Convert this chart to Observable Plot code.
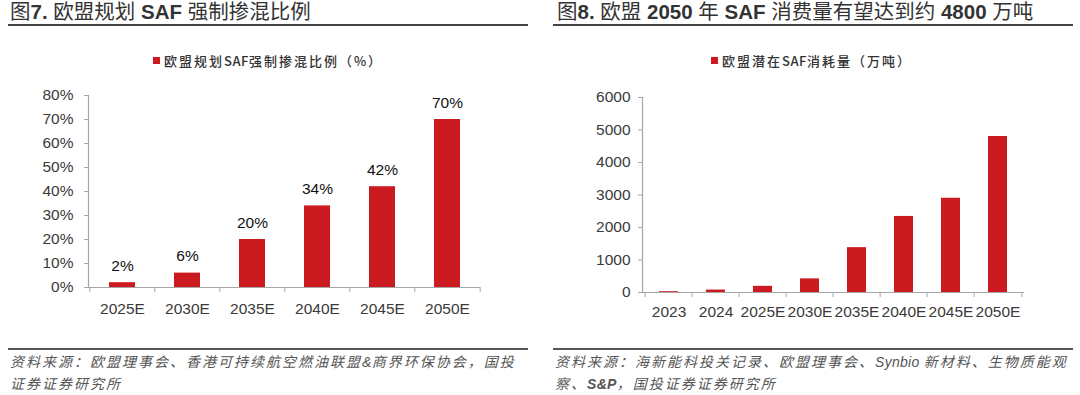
<!DOCTYPE html>
<html>
<head>
<meta charset="utf-8">
<script src="https://cdn.jsdelivr.net/npm/d3@7"></script>
<script src="https://cdn.jsdelivr.net/npm/@observablehq/plot@0.6"></script>
<style>
  html, body { margin: 0; padding: 0; background: #fff; }
  body { width: 1080px; height: 395px; position: relative; overflow: hidden; font-family: "Liberation Sans", Arial, "Noto Sans CJK SC", sans-serif; }
  .abs { position: absolute; }
  .title { font-family: "Liberation Sans", Arial, "Noto Sans CJK SC", sans-serif; font-size: 20.5px; color: #333; white-space: nowrap; line-height: 24px; }
  .title b { font-weight: bold; }
  .rule { background: #444; height: 2px; }
  .crule { background: #555; height: 2px; }
  .legend { font-family: "Noto Sans CJK SC", sans-serif; font-weight: 500; font-size: 13px; color: #333; letter-spacing: 2px; white-space: nowrap; display: flex; align-items: center; }
  .legend .sw { width: 7px; height: 7px; background: #cc1a21; margin-right: 4px; }
  .legend .lat { letter-spacing: 0.5px; }
  .cap { font-family: "Noto Sans CJK SC", sans-serif; font-style: italic; font-size: 14px; color: #555; letter-spacing: 2px; line-height: 21px; white-space: nowrap; }
  .cap .lat { letter-spacing: 0.3px; font-family: "Liberation Sans", Arial, sans-serif; }
</style>
</head>
<body>
<div id="root"></div>
<script>
// ---- data ----
const leftLegend = '欧盟规划<span class="lat">SAF</span>强制掺混比例（%）';
const leftCategories = ["2025E", "2030E", "2035E", "2040E", "2045E", "2050E"];
const leftValues = [2, 6, 20, 34, 42, 70];
const leftYTicks = [0, 10, 20, 30, 40, 50, 60, 70, 80];

const rightLegend = '欧盟潜在<span class="lat">SAF</span>消耗量（万吨）';
const rightCategories = ["2023", "2024", "2025E", "2030E", "2035E", "2040E", "2045E", "2050E"];
const rightValues = [25, 75, 190, 420, 1380, 2340, 2900, 4800];
const rightYTicks = [0, 1000, 2000, 3000, 4000, 5000, 6000];

const RED = "#cc1a21";
const GREY = "#a6a6a6";
const TICKTEXT = "#3a3a3a";

const root = document.getElementById("root");
function addDiv(cls, style, html) {
  const d = document.createElement("div");
  d.className = "abs " + cls;
  Object.assign(d.style, style);
  if (html != null) d.innerHTML = html;
  root.appendChild(d);
  return d;
}

// titles and rules
addDiv("title", {left: "10px", top: "0px"}, '图<b>7.</b> 欧盟规划 <b>SAF</b> 强制掺混比例');
addDiv("rule", {left: "8px", top: "24px", width: "520px"});
addDiv("title", {left: "557px", top: "0px"}, '图<b>8.</b> 欧盟 <b>2050</b> 年 <b>SAF</b> 消费量有望达到约 <b>4800</b> 万吨');
addDiv("rule", {left: "553px", top: "24px", width: "520px"});

// legends
addDiv("legend", {left: "153px", top: "51px"}, '<span class="sw"></span><span>' + leftLegend + '</span>');
addDiv("legend", {left: "711px", top: "51px"}, '<span class="sw"></span><span>' + rightLegend + '</span>');

// caption rules + text
addDiv("crule", {left: "8px", top: "348px", width: "520px"});
addDiv("crule", {left: "553px", top: "348px", width: "520px"});
addDiv("cap", {left: "10px", top: "351px"}, '资料来源：欧盟理事会、香港可持续航空燃油联盟<span class="lat">&amp;</span>商界环保协会，国投<br>证券证券研究所');
addDiv("cap", {left: "555px", top: "351px"}, '资料来源：海新能科投关记录、欧盟理事会、<span class="lat">Synbio </span>新材料、生物质能观<br>察、<b class="lat" style="font-style:italic">S&amp;P</b>，国投证券证券研究所');

function makeChart({cats, values, yTicks, yMax, fmt, labelFmt, mL, mR, mT, mB, yPad, xPad, fontSize}) {
  const data = cats.map((c, i) => ({cat: c, value: values[i]}));
  const W = 540, H = 245;
  const step = (W - mL - mR) / cats.length;
  const marks = [
    Plot.barY(data, {x: "cat", y: "value", fill: RED}),
    Plot.ruleY([0], {stroke: GREY, strokeWidth: 1.2}),
    Plot.frame({anchor: "left", stroke: GREY, strokeWidth: 1.2}),
    Plot.axisY({ticks: yTicks, tickSize: 4, tickPadding: yPad, tickFormat: fmt, stroke: GREY, fill: TICKTEXT, label: null, fontSize}),
    Plot.axisX({tickSize: 5, dx: -step / 2, tickFormat: () => "", stroke: GREY, label: null}),
    Plot.axisX({ticks: [cats[cats.length - 1]], tickSize: 5, dx: step / 2, tickFormat: () => "", stroke: GREY, label: null}),
    Plot.axisX({tickSize: 0, tickPadding: xPad, fill: TICKTEXT, label: null, fontSize})
  ];
  if (labelFmt) {
    marks.push(Plot.text(data, {x: "cat", y: "value", text: d => labelFmt(d.value), lineAnchor: "bottom", dy: -12, fill: "#111", fontSize: 15.5}));
  }
  return Plot.plot({
    width: W, height: H,
    marginLeft: mL, marginRight: mR, marginTop: mT, marginBottom: mB,
    style: {fontFamily: '"Liberation Sans", Arial, sans-serif', fontSize: fontSize + "px", background: "transparent", overflow: "visible"},
    x: {domain: cats, paddingInner: 0.6, paddingOuter: 0.3, label: null},
    y: {domain: [0, yMax], label: null},
    marks
  });
}

const left = makeChart({
  cats: leftCategories, values: leftValues, yTicks: leftYTicks, yMax: 80,
  fmt: d => d + "%", labelFmt: v => v + "%",
  mL: 88, mR: 60, mT: 15, mB: 38, yPad: 11, xPad: 15, fontSize: 15.5
});
const right = makeChart({
  cats: rightCategories, values: rightValues, yTicks: rightYTicks, yMax: 6000,
  fmt: d => String(d), labelFmt: null,
  mL: 102, mR: 56, mT: 17, mB: 33, yPad: 8, xPad: 13, fontSize: 15.5
});
const lw = addDiv("", {left: "0px", top: "80px"}); lw.appendChild(left);
const rw = addDiv("", {left: "540px", top: "80px"}); rw.appendChild(right);
</script>
</body>
</html>
